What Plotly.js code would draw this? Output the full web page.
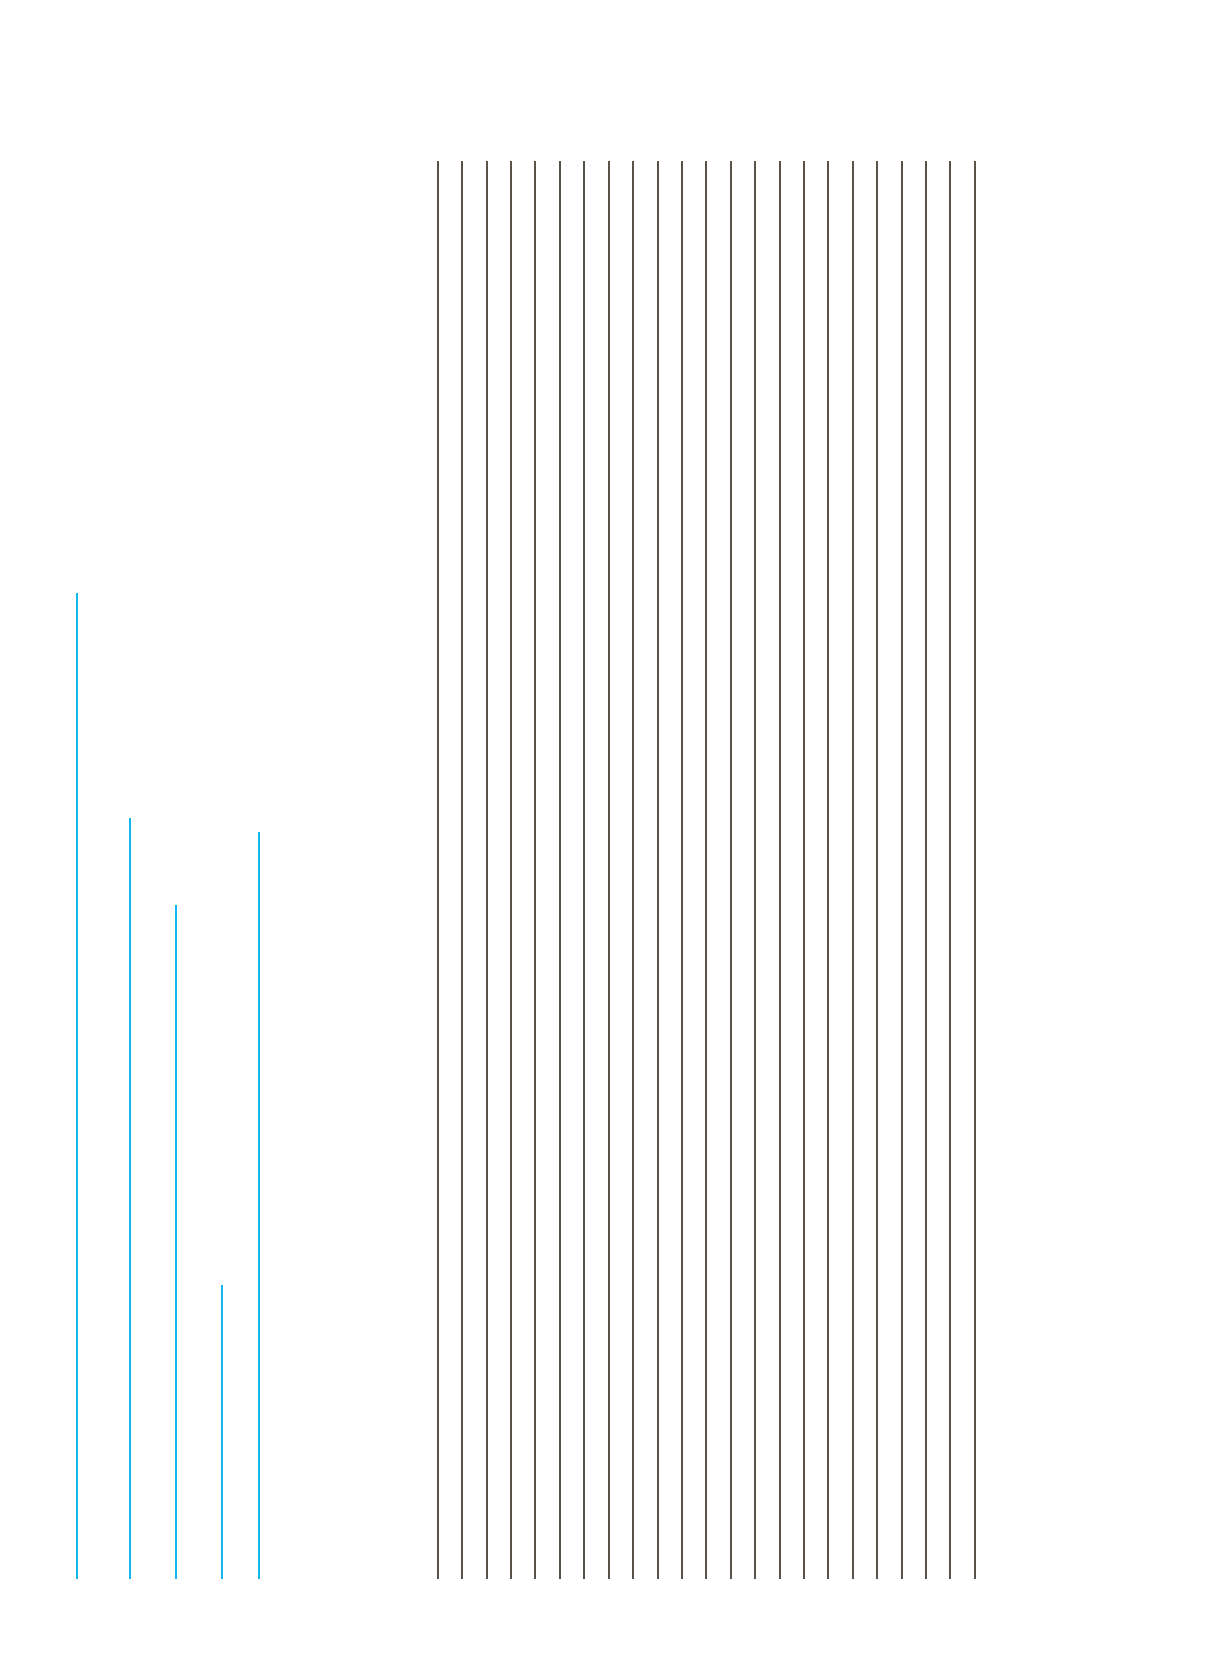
<!DOCTYPE html>
<html>
<head>
<meta charset="utf-8">
<script src="https://cdn.plot.ly/plotly-3.0.1.min.js"></script>
<style>
  html, body { margin: 0; padding: 0; background: #fff; }
  #chart { width: 1207px; height: 1671px; }
</style>
</head>
<body>
<div id="chart"></div>
<script>
// ---------- DATA ----------
// blue series: positions along the x axis and their heights (gray lines = 100)
const bluePositions = [77, 130, 176, 222, 259];
const blueHeights   = [69.5, 53.7, 47.5, 20.7, 52.7];

// gray series: evenly spaced full-height lines
const grayPositions = [438, 462, 487, 511, 535, 560, 584, 609, 633, 658, 682, 706,
                       731, 755, 780, 804, 828, 853, 877, 902, 926, 950, 975];
const grayHeights   = [100, 100, 100, 100, 100, 100, 100, 100, 100, 100, 100, 100,
                       100, 100, 100, 100, 100, 100, 100, 100, 100, 100, 100];

// ---------- TRACES ----------
const blueTrace = {
  type: 'bar',
  x: bluePositions,
  y: blueHeights,
  width: 2,
  marker: { color: '#12b8ee', line: { width: 0 } },
  hoverinfo: 'skip'
};

const grayTrace = {
  type: 'bar',
  x: grayPositions,
  y: grayHeights,
  width: 1.3,
  marker: { color: '#585248', line: { width: 0 } },
  hoverinfo: 'skip'
};

const layout = {
  width: 1207,
  height: 1671,
  margin: { l: 0, r: 0, t: 161, b: 92 },
  paper_bgcolor: '#ffffff',
  plot_bgcolor: '#ffffff',
  showlegend: false,
  bargap: 0,
  xaxis: { range: [0, 1207], visible: false, fixedrange: true },
  yaxis: { range: [0, 100], visible: false, fixedrange: true }
};

Plotly.newPlot('chart', [blueTrace, grayTrace], layout, { staticPlot: true });
</script>
</body>
</html>
